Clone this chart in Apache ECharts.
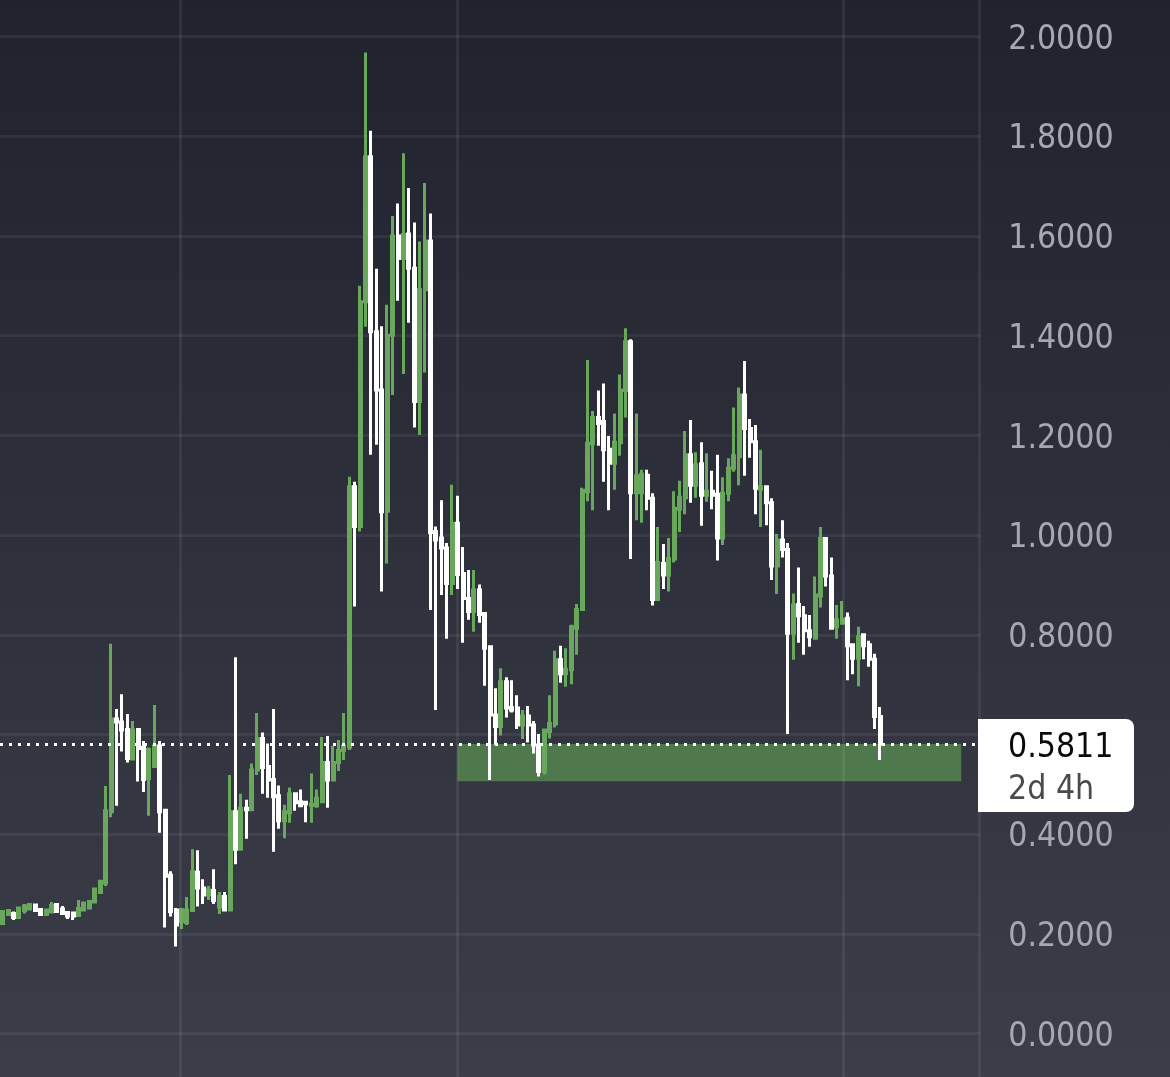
<!DOCTYPE html>
<html>
<head>
<meta charset="utf-8">
<style>
  html, body { margin: 0; padding: 0; background: #2c2f3a; }
  #chart { width: 1170px; height: 1077px; }
</style>
<script src="https://cdn.jsdelivr.net/npm/echarts@6/dist/echarts.min.js"></script>
</head>
<body>
<div id="chart"></div>
<script>
const opens = [
  .221, .239, .241, .233, .247, .250, .258, .249, .239, .244,
  .259, .250, .243, .242, .237, .248, .252, .264, .283, .302,
  .445, .631, .625, .610, .551, .610, .574, .512, .536, .577,
  .448, .318, .248, .225, .223, .247, .324, .292, .278, .287,
  .254, .275, .248, .445, .370, .452, .449, .529, .592, .536,
  .510, .477, .427, .443, .481, .465, .464, .458, .457, .465,
  .544, .509, .544, .568, .575, 1.097, 1.017, 1.468, 1.759, 1.408,
  1.291, 1.048, 1.401, 1.600, 1.555, 1.604, 1.535, 1.268, 1.492, 1.590,
  1.007, .994, .974, .903, 1.024, .923, .873, .847, .890, .843,
  .776, .639, .616, .706, .654, .653, .619, .637, .619, .579,
  .526, .606, .621, .750, .722, .730, .813, .851, 1.087, 1.183,
  1.236, 1.228, 1.172, 1.144, 1.185, 1.290, 1.388, 1.085, 1.085, 1.120,
  1.074, .871, .943, .920, .952, 1.052, 1.075, 1.161, 1.100, 1.143,
  1.080, 1.088, 1.082, .994, 1.084, 1.134, 1.157, 1.281, 1.214, 1.187,
  1.092, 1.097, 1.065, .938, .990, .971, .803, .861, .838, .808,
  .793, .878, .993, .918, .816, .823, .833, .780, .753, .800,
  .780, .751, .636
];
const closes = [
  .245, .247, .233, .252, .256, .259, .247, .239, .248, .257,
  .245, .241, .236, .236, .251, .262, .265, .290, .306, .447,
  .631, .625, .609, .552, .609, .572, .510, .570, .577, .445,
  .316, .245, .218, .249, .248, .325, .292, .278, .288, .267,
  .275, .248, .445, .370, .452, .449, .529, .592, .534, .509,
  .475, .427, .445, .481, .463, .457, .461, .460, .472, .544,
  .509, .544, .568, .577, 1.097, 1.017, 1.468, 1.759, 1.408, 1.291,
  1.047, 1.401, 1.600, 1.555, 1.603, 1.535, 1.268, 1.492, 1.590, 1.005,
  .990, .974, .903, 1.024, .921, .873, .847, .890, .841, .773,
  .639, .616, .706, .653, .649, .619, .637, .619, .579, .526,
  .609, .622, .750, .722, .731, .816, .851, 1.090, 1.184, 1.236,
  1.224, 1.171, 1.144, 1.186, 1.291, 1.388, 1.085, 1.119, 1.122, 1.074,
  .871, .945, .920, .953, 1.054, 1.076, 1.161, 1.100, 1.141, 1.080,
  1.088, 1.080, .994, 1.084, 1.134, 1.159, 1.281, 1.214, 1.187, 1.094,
  1.097, 1.065, .938, .990, .971, .803, .860, .838, .808, .796,
  .880, .993, .918, .813, .830, .831, .778, .753, .796, .778,
  .751, .636, .581
];
const lows = [
  .220, .238, .228, .233, .241, .249, .246, .238, .238, .243,
  .243, .240, .230, .228, .236, .247, .251, .263, .280, .296,
  .434, .457, .566, .544, .549, .506, .485, .437, .535, .403,
  .213, .235, .175, .210, .218, .247, .255, .260, .268, .260,
  .240, .245, .247, .340, .370, .391, .449, .519, .481, .473,
  .365, .411, .392, .423, .447, .455, .424, .423, .453, .464,
  .453, .508, .527, .549, .569, .857, 1.007, 1.418, 1.161, 1.181,
  .887, .943, 1.281, 1.470, 1.323, 1.426, 1.216, 1.201, 1.326, .850,
  .649, .880, .792, .880, .892, .784, .830, .806, .824, .698,
  .509, .579, .598, .634, .644, .611, .591, .584, .562, .516,
  .520, .592, .614, .704, .696, .701, .760, .849, 1.068, 1.050,
  1.179, 1.107, 1.050, 1.091, 1.159, 1.236, .952, 1.030, 1.025, 1.050,
  .859, .868, .892, .887, .945, 1.006, 1.042, 1.065, 1.075, 1.019,
  1.067, 1.052, .949, .980, 1.068, 1.127, 1.100, 1.119, 1.155, 1.042,
  1.016, 1.020, .910, .882, .955, .601, .750, .784, .760, .776,
  .792, .855, .897, .810, .792, .823, .709, .721, .697, .751,
  .736, .611, .549
];
const highs = [
  .247, .248, .245, .254, .260, .260, .260, .250, .250, .264,
  .260, .256, .245, .245, .268, .265, .266, .292, .308, .497,
  .782, .651, .681, .641, .627, .610, .587, .574, .659, .587,
  .449, .326, .252, .250, .274, .370, .368, .310, .296, .330,
  .284, .284, .519, .755, .481, .469, .542, .643, .604, .582,
  .651, .498, .459, .494, .484, .490, .467, .522, .490, .595,
  .597, .577, .589, .643, 1.117, 1.107, 1.500, 1.968, 1.811, 1.534,
  1.419, 1.462, 1.640, 1.665, 1.766, 1.696, 1.627, 1.589, 1.706, 1.645,
  1.017, 1.070, .984, 1.101, 1.079, .976, .930, .930, .901, .845,
  .778, .693, .733, .715, .709, .679, .649, .657, .627, .601,
  .611, .679, .768, .778, .773, .820, .862, 1.095, 1.351, 1.249,
  1.290, 1.304, 1.199, 1.244, 1.322, 1.415, 1.393, 1.244, 1.131, 1.131,
  1.084, 1.016, .982, .994, 1.088, 1.109, 1.209, 1.231, 1.166, 1.186,
  1.164, 1.129, 1.161, 1.116, 1.154, 1.256, 1.296, 1.349, 1.233, 1.221,
  1.171, 1.099, 1.074, 1.002, 1.030, .984, .883, .935, .858, .840,
  .917, 1.016, .996, .955, .860, .868, .845, .781, .816, .802,
  .788, .762, .655
];

const SLOT_COUNT = 181;
const slots = Array.from({ length: SLOT_COUNT }, (_, i) => i);

const verticalGridSlots = [33.2, 84.45, 155.7];
const priceAxisSlot = 180.75;
const zoneStartSlot = 84.47;
const zoneEndSlot = 177.5;
const zoneTop = 0.5811;
const zoneBottom = 0.5065;

const yTicks = { min: 0, max: 2, interval: 0.2 };
const lastPrice = '0.5811';
const countdown = '2d 4h';

const UP_COLOR = '#69a75c';
const DOWN_COLOR = '#ffffff';
const FONT = '"DejaVu Sans Condensed", "DejaVu Sans", sans-serif';

const chart = echarts.init(document.getElementById('chart'));

function candleRows() {
  return opens.map((o, i) => [o, closes[i], lows[i], highs[i]]);
}

const option = {
  animation: false,
  backgroundColor: {
    type: 'linear', x: 0, y: 0, x2: 0, y2: 1,
    colorStops: [
      { offset: 0, color: '#20232e' },
      { offset: 1, color: '#3b3e49' }
    ]
  },
  grid: [
    { left: -0.81, top: 36.5, width: 981.02, height: 997.2 },
    { left: -0.81, top: 0, width: 981.02, height: 1077 }
  ],
  xAxis: [
    { type: 'category', gridIndex: 0, data: slots, show: false },
    { type: 'value', gridIndex: 0, min: 0, max: SLOT_COUNT, show: false },
    { type: 'value', gridIndex: 1, min: 0, max: SLOT_COUNT, show: false }
  ],
  yAxis: [
    {
      type: 'value',
      gridIndex: 0,
      position: 'right',
      min: yTicks.min,
      max: yTicks.max,
      interval: yTicks.interval,
      axisLine: { show: false },
      axisTick: { show: false },
      axisLabel: {
        margin: 28,
        formatter: v => '{tick|' + v.toFixed(4) + '}',
        rich: {
          tick: {
            color: '#a5a8b0',
            fontFamily: FONT,
            fontSize: 33.5,
            padding: [7, 0, 0, 0]
          }
        }
      },
      splitLine: { lineStyle: { color: 'rgba(255,255,255,0.06)', width: 3 } }
    },
    { type: 'value', gridIndex: 1, min: 0, max: 1, show: false }
  ],
  series: [
    {
      // full height vertical grid lines and the price axis line
      type: 'line',
      xAxisIndex: 2,
      yAxisIndex: 1,
      data: [],
      z: 1,
      markLine: {
        silent: true,
        symbol: 'none',
        label: { show: false },
        lineStyle: { color: 'rgba(255,255,255,0.07)', type: 'solid', width: 3 },
        data: [...verticalGridSlots, priceAxisSlot].map(x => ({ xAxis: x }))
      }
    },
    {
      // green support zone
      type: 'line',
      xAxisIndex: 1,
      yAxisIndex: 0,
      data: [],
      z: 2,
      markArea: {
        silent: true,
        itemStyle: { color: '#4f784c' },
        data: [[
          { xAxis: zoneStartSlot, yAxis: zoneTop },
          { xAxis: zoneEndSlot, yAxis: zoneBottom }
        ]]
      }
    },
    {
      type: 'candlestick',
      xAxisIndex: 0,
      yAxisIndex: 0,
      data: candleRows(),
      barWidth: 2.5,
      z: 3,
      itemStyle: {
        color: UP_COLOR,
        color0: DOWN_COLOR,
        borderColor: UP_COLOR,
        borderColor0: DOWN_COLOR,
        borderWidth: 3
      }
    },
    {
      // dotted last price line
      type: 'line',
      xAxisIndex: 1,
      yAxisIndex: 0,
      data: [],
      z: 4,
      markLine: {
        silent: true,
        symbol: 'none',
        label: { show: false },
        lineStyle: { color: '#ffffff', type: [3, 6], width: 3 },
        data: [{ yAxis: Number(lastPrice) }]
      }
    }
  ],
  graphic: [
    {
      type: 'rect',
      z: 100,
      shape: { x: 978, y: 719, width: 156, height: 93, r: [0, 8, 8, 0] },
      style: { fill: '#ffffff' }
    },
    {
      type: 'text',
      z: 101,
      x: 1008,
      y: 748,
      style: {
        text: lastPrice,
        fill: '#0a0a0a',
        font: '33.5px ' + FONT,
        textVerticalAlign: 'middle'
      }
    },
    {
      type: 'text',
      z: 101,
      x: 1008,
      y: 790,
      style: {
        text: countdown,
        fill: '#4a4a4a',
        font: '33.5px ' + FONT,
        textVerticalAlign: 'middle'
      }
    }
  ]
};

chart.setOption(option);
</script>
</body>
</html>
